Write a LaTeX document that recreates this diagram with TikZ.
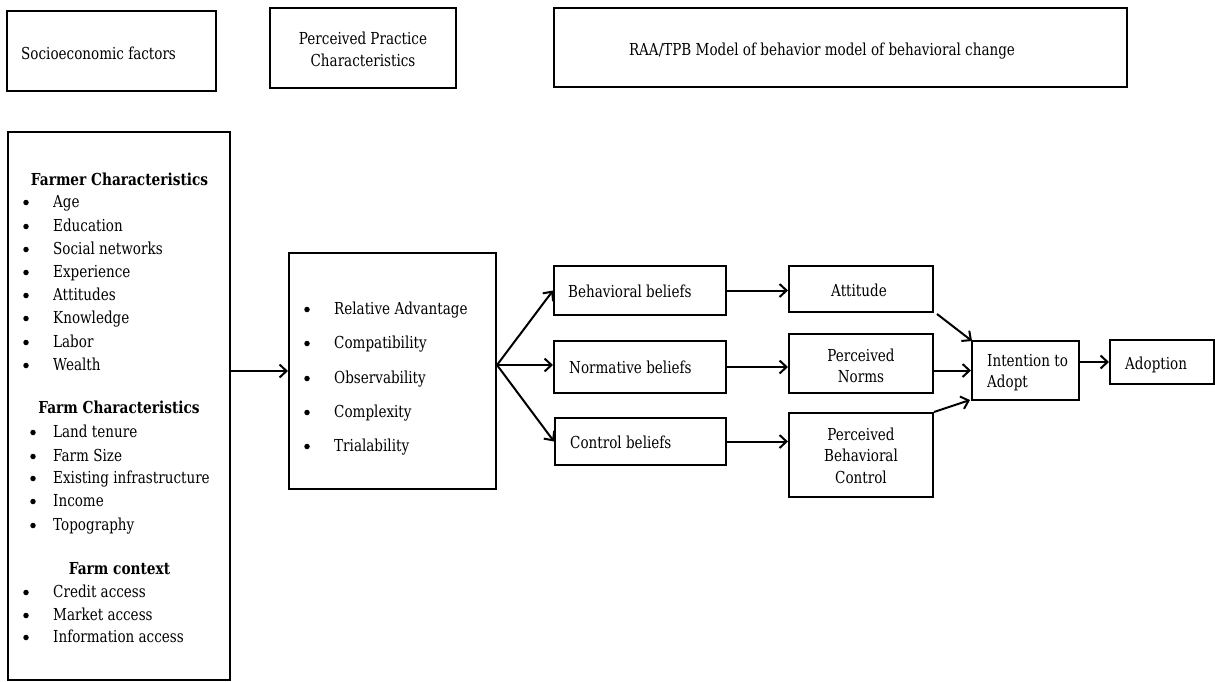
\documentclass[tikz,border=0pt]{standalone}
\usepackage{fontspec}
\setmainfont{DejaVu Serif}[FakeStretch=0.82]
\newfontfamily\hdfont{DejaVu Serif Bold}[FakeStretch=0.83]
\usetikzlibrary{arrows.meta}
\newcommand\fs{\fontsize{16.5}{21}\selectfont}
\begin{document}
\begin{tikzpicture}[x=1pt,y=-1pt,
  box/.style={draw, line width=2pt, inner sep=0pt},
  txt/.style={inner sep=0pt, anchor=base west, font=\fs},
  ctr/.style={inner sep=0pt, anchor=base, font=\fs},
  hd/.style={inner sep=0pt, anchor=base, font=\hdfont\fs},
  bul/.style={circle, fill, inner sep=0pt, minimum size=5.5pt, yshift=4.5pt},
  arr/.style={line width=2pt, -{Straight Barb[length=7pt,width=13pt,line width=2pt]}},
]
\useasboundingbox (0,0) rectangle (1215,681);
% top boxes
\node[box, minimum width=209pt, minimum height=80pt] (soc) at (111.5,51) {};
\node[txt] (soct) at (21,59) {Socioeconomic factors};
\node[box, minimum width=186pt, minimum height=80pt] (ppc) at (363,48) {};
\node[ctr] (ppct1) at (363,44) {Perceived Practice};
\node[ctr] (ppct2) at (363,66) {Characteristics};
\node[box, minimum width=573pt, minimum height=79pt] (raa) at (840.5,47.5) {};
\node[ctr] (raat) at (822,55) {RAA/TPB Model of behavior model of behavioral change};
% left box
\node[box, minimum width=222pt, minimum height=548pt] (farm) at (119,406) {};
\node[hd] (h1) at (119.5,185) {Farmer Characteristics};
\foreach \t/\y [count=\i] in {Age/207,Education/231,Social networks/254,Experience/277,Attitudes/300,Knowledge/323,Labor/347,Wealth/370}{
  \node[bul] (fb\i) at (26,\y) {};
  \node[txt] (ft\i) at (53,\y) {\t};
}
\node[hd] (h2) at (119,413) {Farm Characteristics};
\foreach \t/\y [count=\i] in {Land tenure/437,Farm Size/461,Existing infrastructure/483,Income/506,Topography/530}{
  \node[bul] (gb\i) at (33,\y) {};
  \node[txt] (gt\i) at (53,\y) {\t};
}
\node[hd] (h3) at (119.5,574) {Farm context};
\foreach \t/\y [count=\i] in {Credit access/597,Market access/620,Information access/642}{
  \node[bul] (cb\i) at (26,\y) {};
  \node[txt] (ct\i) at (53,\y) {\t};
}
% middle list box
\node[box, minimum width=207pt, minimum height=236pt] (ppcl) at (392.5,371) {};
\foreach \t/\y [count=\i] in {Relative Advantage/314,Compatibility/348,Observability/383,Complexity/417,Trialability/451}{
  \node[bul] (mb\i) at (307,\y) {};
  \node[txt] (mt\i) at (334,\y) {\t};
}
% beliefs
\node[box, minimum width=172pt, minimum height=49pt] (bb) at (640,290.5) {};
\node[txt] (bbt) at (568,297) {Behavioral beliefs};
\node[box, minimum width=172pt, minimum height=52pt] (nb) at (640,367) {};
\node[txt] (nbt) at (569,373) {Normative beliefs};
\node[box, minimum width=171pt, minimum height=47pt] (cbx) at (640.5,441.5) {};
\node[txt] (cbt) at (570,448) {Control beliefs};
% constructs
\node[box, minimum width=144pt, minimum height=46pt] (att) at (861,289) {};
\node[ctr] (attt) at (859,296) {Attitude};
\node[box, minimum width=144pt, minimum height=59pt] (pn) at (861,363.5) {};
\node[ctr] (pnt1) at (861,361) {Perceived};
\node[ctr] (pnt2) at (861,382) {Norms};
\node[box, minimum width=144pt, minimum height=84pt] (pbc) at (861,455) {};
\node[ctr] (pbct1) at (861,440) {Perceived};
\node[ctr] (pbct2) at (861,461) {Behavioral};
\node[ctr] (pbct3) at (861,483) {Control};
\node[box, minimum width=107pt, minimum height=59pt] (int) at (1025.5,370.5) {};
\node[txt] (intt1) at (987,366) {Intention to};
\node[txt] (intt2) at (987,387) {Adopt};
\node[box, minimum width=104pt, minimum height=44pt] (ado) at (1162,362) {};
\node[txt] (adot) at (1125,369) {Adoption};
% arrows
\draw[arr] (ppcl.west -| farm.east) -- (ppcl.west);
\coordinate (br) at ([yshift=6pt]ppcl.east);
\draw[arr] (br) -- (bb.west);
\draw[arr] (br) -- (br -| nb.west);
\draw[arr] (br) -- (cbx.west);
\draw[arr] (bb.east) -- (bb.east -| att.west);
\draw[arr] (nb.east) -- (nb.east -| pn.west);
\draw[arr] (cbx.east) -- (cbx.east -| pbc.west);
\draw[arr] ([shift={(3,1)}]att.south east) -- ([shift={(1,1)}]int.north west);
\draw[arr] (int.west -| pn.east) -- (int.west);
\draw[arr] (pbc.north east) -- ([shift={(-1,-1)}]int.south west);
\draw[arr] (ado.west -| int.east) -- (ado.west);
\end{tikzpicture}
\end{document}
